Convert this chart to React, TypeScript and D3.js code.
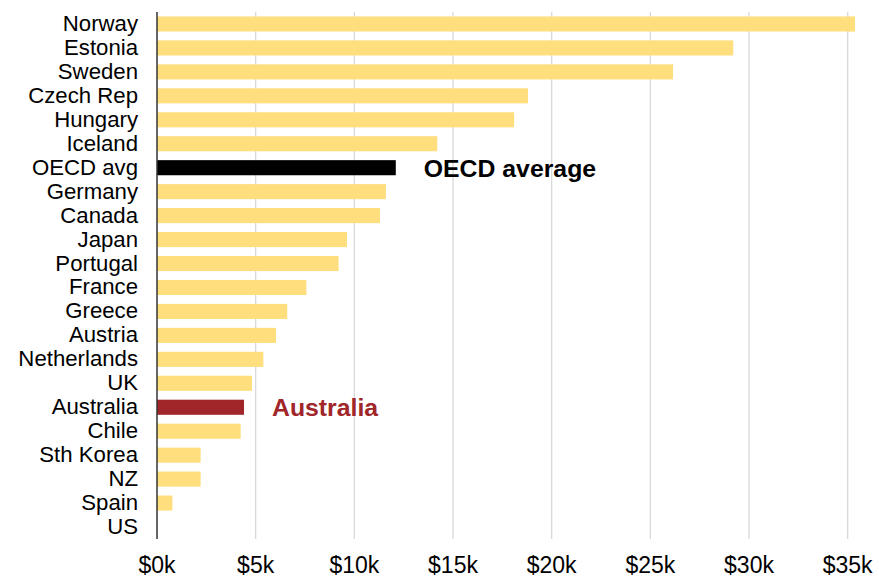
import React from "react";
import * as d3 from "d3";

const categories = ["Norway","Estonia","Sweden","Czech Rep","Hungary","Iceland","OECD avg","Germany","Canada","Japan","Portugal","France","Greece","Austria","Netherlands","UK","Australia","Chile","Sth Korea","NZ","Spain","US"];
const values = [35.37,29.2,26.15,18.8,18.1,14.2,12.1,11.6,11.3,9.63,9.2,7.57,6.6,6.03,5.39,4.81,4.41,4.24,2.21,2.21,0.78,0];
const tickValues = [0,5,10,15,20,25,30,35];
const tickLabels = ["$0k","$5k","$10k","$15k","$20k","$25k","$30k","$35k"];
const highlights: Record<string, { color: string; label: string }> = {
  "OECD avg": { color: "#000000", label: "OECD average" },
  "Australia": { color: "#A0262A", label: "Australia" },
};

const W = 879, H = 579;
const left = 157, right = 847.7, top = 12, bottom = 539;

export default function App() {
  const x = d3.scaleLinear().domain([0, 35]).range([left, right]);
  const y = d3.scaleBand<string>().domain(categories).range([top, bottom]).paddingInner(0.37).paddingOuter(0.185);
  const font = "'Liberation Sans', Arial, sans-serif";
  return (
    <svg width={W} height={H} style={{ position: "absolute", left: 0, top: 0, background: "#fff" }} fontFamily={font}>
      {tickValues.map((t, i) => (
        <g key={t}>
          {t > 0 && <line x1={x(t)} x2={x(t)} y1={top} y2={bottom} stroke="#d9d9d9" strokeWidth={1.3} />}
          <text x={x(t)} y={573} textAnchor="middle" fontSize={23} fill="#000">{tickLabels[i]}</text>
        </g>
      ))}
      {categories.map((c, i) => {
        const h = highlights[c];
        const yy = y(c)!;
        return (
          <g key={c}>
            <rect x={x(0)} y={yy} width={x(values[i]) - x(0)} height={y.bandwidth()} fill={h ? h.color : "#FFDE7D"} />
            <text x={138} y={yy + y.bandwidth() / 2 - 1} dy="0.36em" textAnchor="end" fontSize={22.2} fill="#000">{c}</text>
            {h && (
              <text x={x(values[i]) + 28} y={yy + y.bandwidth() / 2} dy="0.36em" fontSize={24.8} fontWeight="bold" fill={h.color}>{h.label}</text>
            )}
          </g>
        );
      })}
      <line x1={x(0)} x2={x(0)} y1={top} y2={bottom} stroke="#333" strokeWidth={1.5} />
    </svg>
  );
}
